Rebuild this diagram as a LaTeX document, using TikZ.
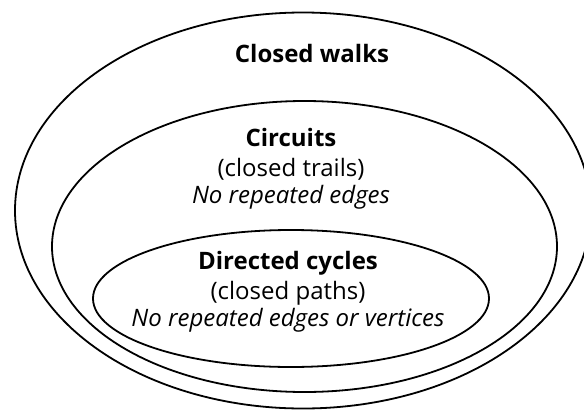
\documentclass[tikz,border=0pt]{standalone}
\usepackage{fontspec}
\setmainfont{Open Sans}
\begin{document}
\begin{tikzpicture}[x=1pt,y=-1pt,line width=1.8pt,
  titletext/.style={font=\fontsize{24}{28}\selectfont\bfseries,anchor=base,inner sep=0pt},
  subtext/.style={font=\fontsize{24}{28}\selectfont,anchor=base,inner sep=0pt},
  notetext/.style={font=\fontsize{24}{28}\selectfont\itshape,anchor=base,inner sep=0pt}]
\useasboundingbox (0,0) rectangle (584,410);
\clip (0,0) rectangle (584,410);
\fill[white] (0,0) rectangle (584,410);
\draw (303,210.5) ellipse [x radius=288, y radius=198];
\draw (304.5,246.5) ellipse [x radius=252.5, y radius=145.5];
\draw (291,298.5) ellipse [x radius=198, y radius=68.5];
\node[titletext] (walks) at (312,62) {Closed walks};
\node[titletext] (circ) at (291,146) {Circuits};
\node[subtext] (trails) at (291,176) {(closed trails)};
\node[notetext] (noedge) at (291,203) {No repeated edges};
\node[titletext] (dcyc) at (288,269) {Directed cycles};
\node[subtext] (paths) at (288,299) {(closed paths)};
\node[notetext] (novert) at (288,326) {No repeated edges or vertices};
\end{tikzpicture}
\end{document}
